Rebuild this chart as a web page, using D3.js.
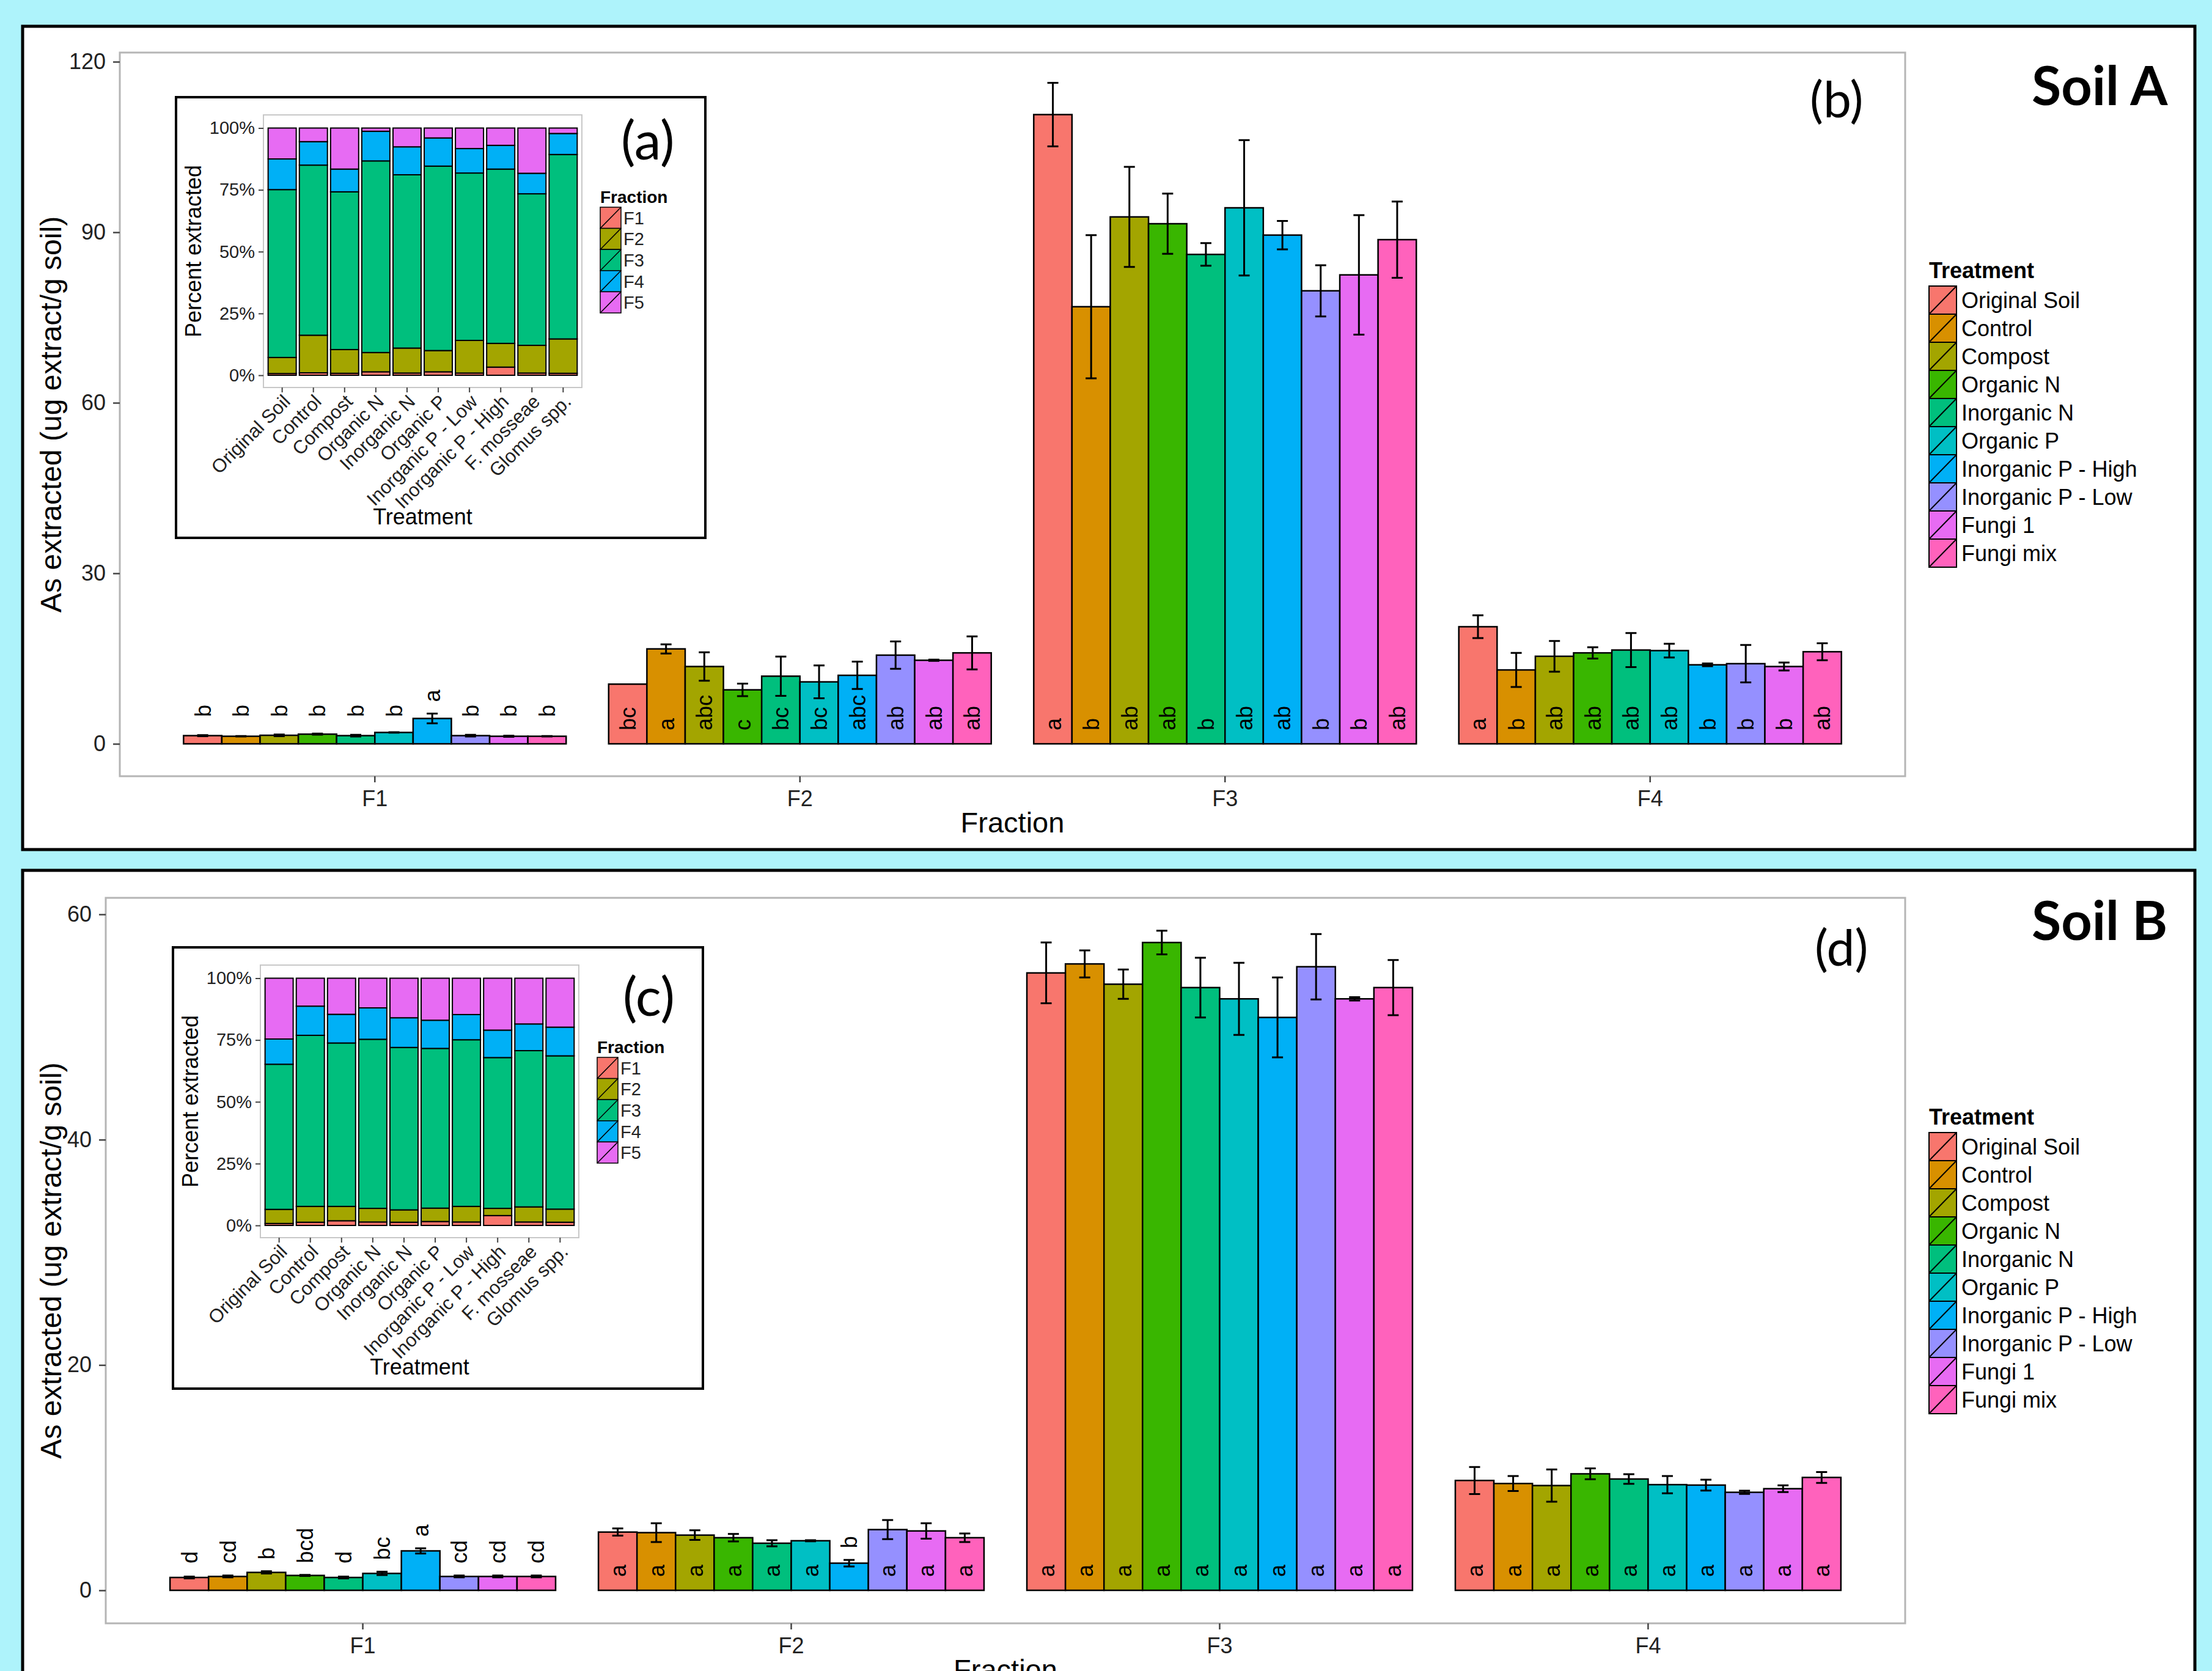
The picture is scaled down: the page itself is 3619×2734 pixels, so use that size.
<!DOCTYPE html>
<html>
<head>
<meta charset="utf-8">
<script src="https://cdn.jsdelivr.net/npm/d3@7"></script>
<style>
body { margin: 0; background: #aef3fb; }
svg { display: block; font-family: "Liberation Sans", Arial, sans-serif; }
</style>
</head>
<body>
<svg id="chart"></svg>
<script>
// categories
var treatments = ["Original Soil", "Control", "Compost", "Organic N", "Inorganic N", "Organic P",
                  "Inorganic P - High", "Inorganic P - Low", "Fungi 1", "Fungi mix"];
var fractions = ["F1", "F2", "F3", "F4"];
var insetTreatments = ["Original Soil", "Control", "Compost", "Organic N", "Inorganic N", "Organic P",
                       "Inorganic P - Low", "Inorganic P - High", "F. mosseae", "Glomus spp."];
var insetFractions = ["F1", "F2", "F3", "F4", "F5"];

var treatColors = ["#F8766D", "#D89000", "#A3A500", "#39B600", "#00BF7D", "#00BFC4",
                   "#00B0F6", "#9590FF", "#E76BF3", "#FF62BC"];
var fracColors = ["#F8766D", "#A3A500", "#00BF7D", "#00B0F6", "#E76BF3"];

// Soil A: As extracted (ug/g), one array per fraction, in treatment order
var soilA_F1 = [1.44, 1.33, 1.5, 1.7, 1.44, 2.0, 4.46, 1.44, 1.33, 1.33];
var soilA_F2 = [10.5, 16.7, 13.6, 9.5, 11.9, 10.9, 12.05, 15.6, 14.7, 16.0];
var soilA_F3 = [110.7, 76.9, 92.7, 91.5, 86.1, 94.3, 89.5, 79.7, 82.5, 88.7];
var soilA_F4 = [20.6, 13.0, 15.4, 16.0, 16.5, 16.4, 13.9, 14.1, 13.6, 16.2];
var soilA_F1_se = [0.1, 0.05, 0.15, 0.1, 0.15, 0.05, 0.85, 0.15, 0.1, 0.05];
var soilA_F2_se = [0, 0.8, 2.5, 1.1, 3.45, 2.9, 2.4, 2.4, 0.1, 2.9];
var soilA_F3_se = [5.6, 12.6, 8.8, 5.3, 2.0, 11.9, 2.5, 4.5, 10.5, 6.7];
var soilA_F4_se = [2.0, 3.0, 2.7, 1.0, 3.0, 1.2, 0.25, 3.3, 0.7, 1.5];
var soilA_F1_let = ["b", "b", "b", "b", "b", "b", "a", "b", "b", "b"];
var soilA_F2_let = ["bc", "a", "abc", "c", "bc", "bc", "abc", "ab", "ab", "ab"];
var soilA_F3_let = ["a", "b", "ab", "ab", "b", "ab", "ab", "b", "b", "ab"];
var soilA_F4_let = ["a", "b", "ab", "ab", "ab", "ab", "b", "b", "b", "ab"];

// Soil B
var soilB_F1 = [1.14, 1.23, 1.59, 1.32, 1.14, 1.5, 3.5, 1.23, 1.23, 1.23];
var soilB_F2 = [5.17, 5.12, 4.9, 4.67, 4.18, 4.4, 2.41, 5.39, 5.27, 4.67];
var soilB_F3 = [54.8, 55.6, 53.8, 57.5, 53.5, 52.5, 50.85, 55.35, 52.5, 53.5];
var soilB_F4 = [9.75, 9.48, 9.3, 10.34, 9.88, 9.38, 9.34, 8.7, 9.02, 10.02];
var soilB_F1_se = [0.08, 0.08, 0.1, 0.05, 0.08, 0.15, 0.23, 0.08, 0.08, 0.08];
var soilB_F2_se = [0.32, 0.83, 0.43, 0.33, 0.27, 0.05, 0.29, 0.85, 0.68, 0.38];
var soilB_F3_se = [2.7, 1.2, 1.3, 1.05, 2.65, 3.2, 3.55, 2.9, 0.15, 2.45];
var soilB_F4_se = [1.2, 0.66, 1.43, 0.48, 0.43, 0.77, 0.48, 0.14, 0.3, 0.48];
var soilB_F1_let = ["d", "cd", "b", "bcd", "d", "bc", "a", "cd", "cd", "cd"];
var soilB_F2_let = ["a", "a", "a", "a", "a", "a", "b", "a", "a", "a"];
var soilB_F3_let = ["a", "a", "a", "a", "a", "a", "a", "a", "a", "a"];
var soilB_F4_let = ["a", "a", "a", "a", "a", "a", "a", "a", "a", "a"];

// insets: percent extracted, rows F1..F5, columns in insetTreatments order
var pctA = [
  [0.7, 1.0, 0.8, 1.4, 0.9, 1.4, 0.9, 3.3, 0.9, 0.8],
  [6.5, 15.2, 9.6, 7.8, 10.1, 8.6, 13.2, 9.6, 11.2, 13.9],
  [67.9, 68.8, 63.8, 77.5, 70.1, 74.6, 67.7, 70.5, 61.3, 74.6],
  [12.4, 9.5, 9.2, 12.0, 11.3, 11.4, 9.9, 9.6, 8.3, 8.5],
  [12.5, 5.5, 16.6, 1.3, 7.6, 4.0, 8.3, 7.0, 18.3, 2.2]
];
var pctB = [
  [0.8, 1.3, 1.9, 1.4, 1.3, 1.6, 1.4, 4.0, 1.4, 1.3],
  [5.7, 6.4, 5.8, 5.5, 5.0, 5.4, 6.3, 2.9, 6.1, 5.3],
  [58.7, 69.2, 66.1, 68.4, 65.7, 64.6, 67.4, 61.0, 63.2, 62.0],
  [10.2, 11.8, 11.6, 12.7, 12.0, 11.4, 10.2, 11.1, 10.8, 11.6],
  [24.6, 11.3, 14.6, 12.0, 16.0, 17.0, 14.7, 21.0, 18.5, 19.8]
];

var W = 3619, H = 2734;
var svg = d3.select("#chart").attr("width", W).attr("height", H);
svg.append("rect").attr("width", W).attr("height", H).attr("fill", "#aef3fb");

var color = d3.scaleOrdinal().domain(treatments).range(treatColors);
var fracColor = d3.scaleOrdinal().domain(insetFractions).range(fracColors);
var calibri = "Lato, 'Open Sans', sans-serif";
var letterSize = 36;

function drawBox(y, h) {
  svg.append("rect")
    .attr("x", 37).attr("y", y).attr("width", 3554).attr("height", h)
    .attr("fill", "#fff").attr("stroke", "#000").attr("stroke-width", 5);
}

function drawPanel(p) {
  var g = svg.append("g");
  var x = d3.scaleBand().domain(fractions).range([p.left, p.right])
      .paddingInner(0.1).paddingOuter(0.15);
  var xi = d3.scaleBand().domain(treatments).range([0, x.bandwidth()]);
  var y = d3.scaleLinear().domain(p.yDomain).range(p.yRange);

  g.append("rect")
    .attr("x", p.left).attr("y", p.top)
    .attr("width", p.right - p.left).attr("height", p.bottom - p.top)
    .attr("fill", "none").attr("stroke", "#b5b5b5").attr("stroke-width", 3);

  var ya = g.append("g").attr("transform", "translate(" + p.left + ",0)")
      .call(d3.axisLeft(y).tickValues(p.ticks).tickSize(11).tickPadding(12));
  ya.attr("font-size", 36).attr("font-family", null);
  ya.select(".domain").remove();
  ya.selectAll("line").attr("stroke", "#444").attr("stroke-width", 2.5);
  ya.selectAll("text").attr("fill", "#222");

  var xa = g.append("g").attr("transform", "translate(0," + p.bottom + ")")
      .call(d3.axisBottom(x).tickSize(10).tickPadding(13));
  xa.attr("font-size", 36).attr("font-family", null);
  xa.select(".domain").remove();
  xa.selectAll("line").attr("stroke", "#444").attr("stroke-width", 2.5);
  xa.selectAll("text").attr("fill", "#222");

  g.append("text")
    .attr("x", (p.left + p.right) / 2).attr("y", p.bottom + 92)
    .attr("text-anchor", "middle").attr("font-size", 47)
    .text("Fraction");
  g.append("text")
    .attr("transform", "translate(100," + (p.top + p.bottom) / 2 + ") rotate(-90)")
    .attr("text-anchor", "middle").attr("font-size", 48)
    .text("As extracted (ug extract/g soil)");

  var rows = [];
  fractions.forEach(function(f, fi) {
    treatments.forEach(function(t, ti) {
      rows.push({f: f, t: t, v: p.values[fi][ti], e: p.errs[fi][ti], lab: p.letters[fi][ti]});
    });
  });
  function cx(d) { return x(d.f) + xi(d.t) + xi.bandwidth() / 2; }

  g.append("g").selectAll("rect").data(rows).join("rect")
    .attr("x", function(d) { return x(d.f) + xi(d.t); })
    .attr("y", function(d) { return y(d.v); })
    .attr("width", xi.bandwidth())
    .attr("height", function(d) { return y(0) - y(d.v); })
    .attr("fill", function(d) { return color(d.t); })
    .attr("stroke", "#000").attr("stroke-width", 2.5);

  g.append("g").selectAll("path").data(rows.filter(function(d) { return d.e > 0; })).join("path")
    .attr("d", function(d) {
      var c = cx(d), hi = y(d.v + d.e), lo = y(d.v - d.e);
      return "M" + (c - 9) + "," + hi + "H" + (c + 9) + "M" + c + "," + hi + "V" + lo +
             "M" + (c - 9) + "," + lo + "H" + (c + 9);
    })
    .attr("fill", "none").attr("stroke", "#000").attr("stroke-width", 3);

  // significance letters: inside the bar when it fits, otherwise above it
  g.append("g").selectAll("text").data(rows).join("text")
    .attr("transform", function(d) {
      var len = d.lab.length * 0.56 * letterSize;
      var inside = (y(0) - y(d.v)) >= len + 50;
      var ys = inside ? y(0) - 22 : Math.min(y(0) - 44, y(d.v + d.e) - 19);
      return "translate(" + cx(d) + "," + ys + ") rotate(-90)";
    })
    .attr("dy", "0.36em").attr("font-size", letterSize)
    .text(function(d) { return d.lab; });

  // treatment legend
  var lg = g.append("g");
  lg.append("text").attr("x", 3156).attr("y", p.legendTop - 13)
    .attr("font-size", 36).attr("font-weight", "bold").text("Treatment");
  var key = lg.selectAll("g.key").data(treatments).join("g")
    .attr("transform", function(d, i) { return "translate(3156," + (p.legendTop + i * 46) + ")"; });
  key.append("rect").attr("width", 45).attr("height", 46)
    .attr("fill", function(d) { return color(d); })
    .attr("stroke", "#000").attr("stroke-width", 2);
  key.append("line").attr("x1", 0).attr("y1", 46).attr("x2", 45).attr("y2", 0)
    .attr("stroke", "#000").attr("stroke-width", 2);
  key.append("text").attr("x", 53).attr("y", 23).attr("dy", "0.36em")
    .attr("font-size", 36).text(function(d) { return d; });
}

function drawInset(box, pct) {
  var g = svg.append("g");
  g.append("rect").attr("x", box.x).attr("y", box.y).attr("width", box.w).attr("height", box.h)
    .attr("fill", "#fff").attr("stroke", "#000").attr("stroke-width", 4);

  var left = box.x + 143, right = box.x + 664, top = box.y + 29, bottom = box.y + 475;
  var x = d3.scaleBand().domain(insetTreatments).range([left, right])
      .paddingInner(0.1).paddingOuter(0.15);
  var y = d3.scaleLinear().domain([0, 100]).range([box.y + 455, box.y + 50.5]);

  g.append("rect").attr("x", left).attr("y", top).attr("width", right - left).attr("height", bottom - top)
    .attr("fill", "none").attr("stroke", "#c8c8c8").attr("stroke-width", 2);

  var rows = insetTreatments.map(function(t, i) {
    var r = {t: t};
    insetFractions.forEach(function(f, fi) { r[f] = pct[fi][i]; });
    return r;
  });
  var series = d3.stack().keys(insetFractions)(rows);
  g.append("g").selectAll("g").data(series).join("g")
    .attr("fill", function(s) { return fracColor(s.key); })
    .selectAll("rect").data(function(s) { return s; }).join("rect")
    .attr("x", function(d) { return x(d.data.t); })
    .attr("y", function(d) { return y(d[1]); })
    .attr("width", x.bandwidth())
    .attr("height", function(d) { return y(d[0]) - y(d[1]); })
    .attr("stroke", "#000").attr("stroke-width", 2);

  var ya = g.append("g").attr("transform", "translate(" + left + ",0)")
      .call(d3.axisLeft(y).tickValues([0, 25, 50, 75, 100])
        .tickFormat(function(d) { return d + "%"; }).tickSize(8).tickPadding(6));
  ya.attr("font-size", 29).attr("font-family", null);
  ya.select(".domain").remove();
  ya.selectAll("line").attr("stroke", "#444").attr("stroke-width", 2);
  ya.selectAll("text").attr("fill", "#222");

  var xa = g.append("g").attr("transform", "translate(0," + bottom + ")")
      .call(d3.axisBottom(x).tickSize(8));
  xa.attr("font-size", 31).attr("font-family", null);
  xa.select(".domain").remove();
  xa.selectAll("line").attr("stroke", "#444").attr("stroke-width", 2);
  xa.selectAll("text").attr("fill", "#222")
    .attr("x", 0).attr("y", 0).attr("dy", null)
    .attr("text-anchor", "end")
    .attr("transform", "translate(15,25) rotate(-45)");

  g.append("text").attr("x", (left + right) / 2).attr("y", box.y + 699)
    .attr("text-anchor", "middle").attr("font-size", 36).text("Treatment");
  g.append("text")
    .attr("transform", "translate(" + (box.x + 41) + "," + (top + bottom) / 2 + ") rotate(-90)")
    .attr("text-anchor", "middle").attr("font-size", 36).text("Percent extracted");

  var lx = box.x + 694, lt = box.y + 180;
  g.append("text").attr("x", lx).attr("y", box.y + 173)
    .attr("font-size", 28).attr("font-weight", "bold").text("Fraction");
  var key = g.selectAll("g.fkey").data(insetFractions).join("g")
    .attr("transform", function(d, i) { return "translate(" + lx + "," + (lt + i * 34.6) + ")"; });
  key.append("rect").attr("width", 34).attr("height", 34.6)
    .attr("fill", function(d) { return fracColor(d); })
    .attr("stroke", "#000").attr("stroke-width", 1.5);
  key.append("line").attr("x1", 0).attr("y1", 34.6).attr("x2", 34).attr("y2", 0)
    .attr("stroke", "#000").attr("stroke-width", 1.5);
  key.append("text").attr("x", 38).attr("y", 17.3).attr("dy", "0.36em")
    .attr("font-size", 29).attr("fill", "#222").text(function(d) { return d; });
}

function bigLabel(txt, x, y, size, bold) {
  svg.append("text").attr("x", x).attr("y", y)
    .attr("font-family", calibri).attr("font-size", size)
    .attr("font-weight", bold ? "bold" : "normal").text(txt);
}

// Soil A
drawBox(43, 1347);
drawPanel({
  left: 196, right: 3117, top: 86, bottom: 1270,
  yDomain: [0, 120], yRange: [1217, 101], ticks: [0, 30, 60, 90, 120],
  values: [soilA_F1, soilA_F2, soilA_F3, soilA_F4],
  errs: [soilA_F1_se, soilA_F2_se, soilA_F3_se, soilA_F4_se],
  letters: [soilA_F1_let, soilA_F2_let, soilA_F3_let, soilA_F4_let],
  legendTop: 468
});
drawInset({x: 288, y: 159, w: 866, h: 721}, pctA);
bigLabel("(a)", 1016, 261, 88, false);
bigLabel("(b)", 2961, 192, 82, false);
bigLabel("Soil A", 3324, 172, 88, true);

// Soil B
drawBox(1424, 1400);
drawPanel({
  left: 173, right: 3117, top: 1469, bottom: 2656,
  yDomain: [0, 60], yRange: [2602, 1496], ticks: [0, 20, 40, 60],
  values: [soilB_F1, soilB_F2, soilB_F3, soilB_F4],
  errs: [soilB_F1_se, soilB_F2_se, soilB_F3_se, soilB_F4_se],
  letters: [soilB_F1_let, soilB_F2_let, soilB_F3_let, soilB_F4_let],
  legendTop: 1853
});
drawInset({x: 283, y: 1550, w: 867, h: 722}, pctB);
bigLabel("(c)", 1019, 1662, 88, false);
bigLabel("(d)", 2969, 1580, 82, false);
bigLabel("Soil B", 3324, 1538, 88, true);
</script>
</body>
</html>
